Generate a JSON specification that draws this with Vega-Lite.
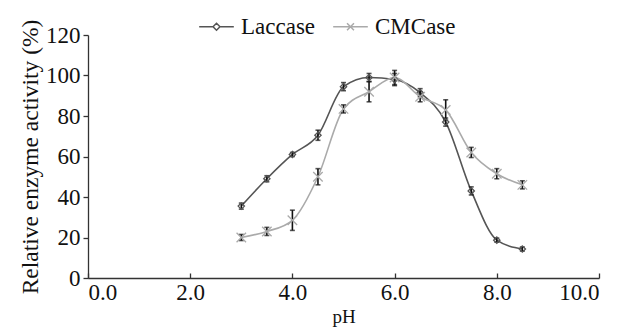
{
  "$schema": "https://vega.github.io/schema/vega-lite/v6.json",
  "width": 511,
  "height": 243,
  "autosize": {"type": "none"},
  "padding": {"left": 88, "top": 35, "right": 21, "bottom": 56},
  "background": "white",
  "config": {
    "view": {"stroke": null},
    "font": "Liberation Serif",
    "style": {"guide-label": {"font": "Liberation Serif", "fontSize": 23}},
    "axis": {"grid": false, "domainColor": "#333", "tickColor": "#333", "domainWidth": 1.3, "tickWidth": 1.3, "labelColor": "#111", "titleColor": "#111", "labelFont": "Liberation Serif", "labelFontSize": 23, "titleFont": "Liberation Serif", "titleFontWeight": "normal"}
  },
  "data": {"values": [
    {"pH": 3.0, "series": "Laccase", "value": 35.5, "err": 1.5},
    {"pH": 3.5, "series": "Laccase", "value": 49, "err": 1.5},
    {"pH": 4.0, "series": "Laccase", "value": 61, "err": 1},
    {"pH": 4.5, "series": "Laccase", "value": 70.5, "err": 2.5},
    {"pH": 5.0, "series": "Laccase", "value": 94.5, "err": 2},
    {"pH": 5.5, "series": "Laccase", "value": 99, "err": 2},
    {"pH": 6.0, "series": "Laccase", "value": 98, "err": 3},
    {"pH": 6.5, "series": "Laccase", "value": 91.5, "err": 2},
    {"pH": 7.0, "series": "Laccase", "value": 77, "err": 2},
    {"pH": 7.5, "series": "Laccase", "value": 43, "err": 2},
    {"pH": 8.0, "series": "Laccase", "value": 18.7, "err": 1},
    {"pH": 8.5, "series": "Laccase", "value": 14.3, "err": 1},
    {"pH": 3.0, "series": "CMCase", "value": 20, "err": 1.5},
    {"pH": 3.5, "series": "CMCase", "value": 23, "err": 2},
    {"pH": 4.0, "series": "CMCase", "value": 28.5, "err": 5},
    {"pH": 4.5, "series": "CMCase", "value": 50, "err": 4},
    {"pH": 5.0, "series": "CMCase", "value": 83.5, "err": 2},
    {"pH": 5.5, "series": "CMCase", "value": 92, "err": 5},
    {"pH": 6.0, "series": "CMCase", "value": 99, "err": 3.5},
    {"pH": 6.5, "series": "CMCase", "value": 89.5, "err": 2.5},
    {"pH": 7.0, "series": "CMCase", "value": 83, "err": 5},
    {"pH": 7.5, "series": "CMCase", "value": 62, "err": 2.5},
    {"pH": 8.0, "series": "CMCase", "value": 51.5, "err": 2.5},
    {"pH": 8.5, "series": "CMCase", "value": 46, "err": 2}
  ]},
  "encoding": {
    "x": {"field": "pH", "type": "quantitative", "scale": {"domain": [0, 10], "nice": false},
      "axis": {"values": [0, 2, 4, 6, 8, 10], "format": ".1f", "tickSize": -5, "labelPadding": 8, "title": "pH", "titleFontSize": 19, "titlePadding": 3,
        "encode": {"labels": {"update": {"fontSize": {"value": 23}, "font": {"value": "Liberation Serif"}}}}}},
    "y": {"field": "value", "type": "quantitative", "scale": {"domain": [0, 120], "nice": false},
      "axis": {"values": [0, 20, 40, 60, 80, 100, 120], "tickSize": 5, "labelPadding": 3, "title": "Relative enzyme activity (%)", "titleFontSize": 23.5, "titlePadding": 3,
        "encode": {"labels": {"update": {"fontSize": {"value": 23}, "font": {"value": "Liberation Serif"}}}}}}
  },
  "resolve": {"scale": {"shape": "independent", "color": "independent"}, "legend": {"shape": "independent", "color": "independent"}},
  "layer": [
    {
      "mark": {"type": "line", "interpolate": "monotone", "strokeWidth": 1.6},
      "encoding": {"color": {"field": "series", "type": "nominal", "scale": {"domain": ["Laccase", "CMCase"], "range": ["#555555", "#aaaaaa"]}, "legend": null}}
    },
    {
      "mark": {"type": "errorbar", "ticks": true, "color": "#111", "thickness": 1.6},
      "encoding": {"yError": {"field": "err"}, "detail": {"field": "series"}}
    },
    {
      "mark": {"type": "point", "filled": false, "strokeWidth": 1.3, "opacity": 1},
      "encoding": {
        "shape": {"field": "series", "type": "nominal", "scale": {"domain": ["Laccase", "CMCase"], "range": ["M0,-1L1,0L0,1L-1,0Z", "M-1,-1L1,1M-1,1L1,-1"]}, "legend": null},
        "size": {"field": "series", "type": "nominal", "scale": {"domain": ["Laccase", "CMCase"], "range": [40, 90]}, "legend": null},
        "color": {"field": "series", "type": "nominal", "scale": {"domain": ["Laccase", "CMCase"], "range": ["#555555", "#aaaaaa"]}, "legend": null}
      }
    },
    {
      "mark": {"type": "point", "filled": false, "opacity": 0, "strokeWidth": 1.5},
      "encoding": {
        "shape": {"field": "series", "type": "nominal", "scale": {"domain": ["Laccase", "CMCase"], "range": ["M-1,0H-0.2M0.2,0H1M0,-0.2L0.2,0L0,0.2L-0.2,0Z", "M-1,0H1M-0.2,-0.2L0.2,0.2M-0.2,0.2L0.2,-0.2"]},
          "legend": {"title": null, "orient": "none", "legendX": 110, "legendY": -27, "direction": "horizontal", "symbolSize": 1200, "symbolOpacity": 1, "symbolStrokeWidth": 1.5, "symbolFillColor": "transparent", "labelFontSize": 23, "labelFont": "Liberation Serif", "labelColor": "#111", "labelOffset": 6, "columnPadding": 14}},
        "color": {"field": "series", "type": "nominal", "scale": {"domain": ["Laccase", "CMCase"], "range": ["#555555", "#aaaaaa"]},
          "legend": {"title": null, "orient": "none", "legendX": 110, "legendY": -27, "direction": "horizontal", "symbolSize": 1200, "symbolOpacity": 1, "symbolStrokeWidth": 1.5, "symbolFillColor": "transparent", "labelFontSize": 23, "labelFont": "Liberation Serif", "labelColor": "#111", "labelOffset": 6, "columnPadding": 14}}
      }
    }
  ]
}
